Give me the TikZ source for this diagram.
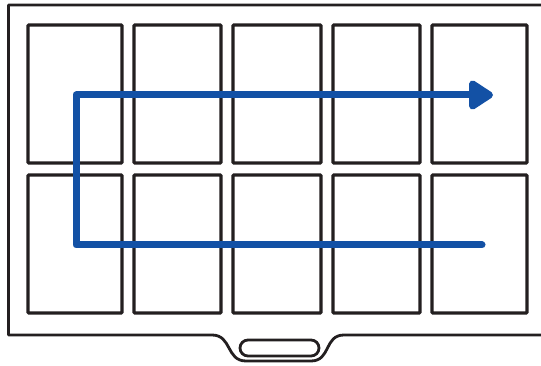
\documentclass[tikz,border=0pt]{standalone}
\usetikzlibrary{arrows.meta}
\definecolor{ink}{HTML}{231F20}
\definecolor{pathblue}{HTML}{1351A5}
\begin{document}
\begin{tikzpicture}[x=1pt,y=-1pt,
  cell/.style={draw=ink,line width=3.2pt,rounded corners=1pt,inner sep=0pt,outer sep=0pt,minimum height=138pt},
  frame/.style={draw=ink,line width=2.8pt,line join=round},
  route/.style={draw=pathblue,line width=7pt,line join=round,line cap=round}]
\useasboundingbox (0,0) rectangle (541,366);
\begin{scope}
\clip (0,0) rectangle (541,366);
% outer frame with bottom tab
\draw[frame] (560,5) -- (8.5,5) -- (8.5,335) -- (212,335)
  .. controls (232,335) and (226,361) .. (246,361) -- (311,361)
  .. controls (331,361) and (324,335) .. (344,335) -- (560,335);
\end{scope}
% slot
\draw[frame,rounded corners=8pt] (240,340) rectangle (319,356);
% cells
\foreach \n/\x/\w in {1/75/94,2/177.5/87,3/277/88,4/376.5/87,5/479.5/95}{
  \node[cell,minimum width=\w pt] (a\n) at (\x,94) {};
  \node[cell,minimum width=\w pt] (b\n) at (\x,244) {};
}
% route
\coordinate (start) at (482,245);
\coordinate (turnA) at (76,245);
\coordinate (turnB) at (76,95);
\coordinate (tip) at (493,95);
\draw[route,-{Triangle[length=27pt,width=33pt,round]}] (start) -- (turnA) -- (turnB) -- (tip);
\end{tikzpicture}
\end{document}
